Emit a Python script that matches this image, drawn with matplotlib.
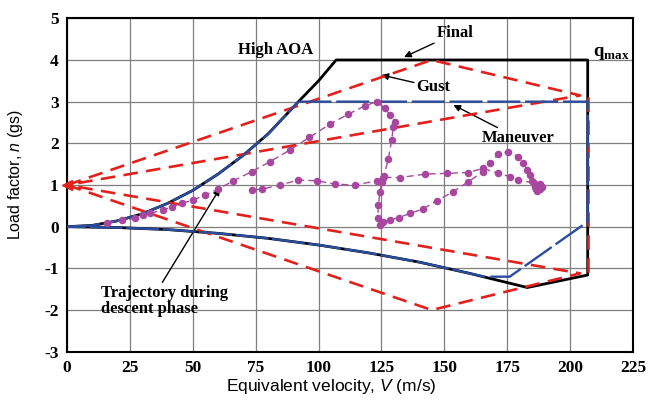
import numpy as np
import matplotlib
matplotlib.use("Agg")
import matplotlib.pyplot as plt

plt.rcParams['mathtext.fontset'] = 'custom'
plt.rcParams['mathtext.rm'] = 'Liberation Sans'
plt.rcParams['mathtext.it'] = 'Liberation Sans:italic'
plt.rcParams['mathtext.bf'] = 'Liberation Serif:bold'
plt.rcParams['axes.unicode_minus'] = False

# envolvente final (negra)
final_v = [0, 10, 20, 30, 40, 50, 60, 70, 80, 92, 100, 107, 207, 207, 183,
           160, 140, 120, 100, 80, 60, 40, 20, 0]
final_n = [0, 0.03, 0.14, 0.31, 0.56, 0.87, 1.26, 1.71, 2.23, 3.0, 3.5, 4.0, 4.0, -1.16, -1.46,
           -1.12, -0.85, -0.63, -0.44, -0.28, -0.16, -0.07, -0.02, 0]

# envolvente de maniobra (azul)
man_curve_v = [0, 10, 20, 30, 40, 50, 60, 70, 80, 92]
man_curve_n = [0, 0.03, 0.14, 0.31, 0.56, 0.87, 1.26, 1.71, 2.23, 3.0]
man_lines_v = [92, 207, 207, 176, 166]
man_lines_n = [3.0, 3.0, 0.12, -1.2, -1.2]
man_low_v = [166, 140, 120, 100, 80, 60, 40, 20, 0]
man_low_n = [-1.2, -0.85, -0.63, -0.44, -0.28, -0.16, -0.07, -0.02, 0]

# envolvente de rafaga (roja)
gust_up_v = [0, 145, 204, 0]
gust_up_n = [1, 4.0, 3.15, 1]
gust_low_v = [0, 145, 204, 0]
gust_low_n = [1, -2.0, -1.12, 1]
gust_vd_v = [207, 207]
gust_vd_n = [3.1, -1.15]

# trayectoria durante el descenso
traj_v = [16, 22, 27, 30.3, 33, 38.3, 41.6, 45.6, 50.2, 54.9, 60.1, 66.1, 73.4, 80.7, 88.6,
          96.3, 104.5, 111.8, 118.5, 123.1, 126.4, 128.4, 130.4, 129.7, 129.1, 127.7, 126,
          125.1, 124.4, 123.8, 123.5, 124.4, 125.7, 128.4, 132.1, 136.3, 141.4, 146.9, 153.6,
          159.5, 165.5, 168.2, 171.4, 175.4, 179.4, 181.4, 183, 184, 185,
          186, 187, 188, 187.5, 186.5, 188.5, 187, 189, 186, 188, 187, 185.5,
          179.4, 176.1, 171.4, 165.5, 159.5, 150.9, 142.3, 132.4, 125.7, 123.1, 114.5,
          106.7, 99.4, 92, 84.7, 77.4, 73.4]
traj_n = [0.1, 0.15, 0.2, 0.27, 0.32, 0.4, 0.48, 0.56, 0.64, 0.76, 0.9, 1.1, 1.32, 1.56, 1.84,
          2.14, 2.46, 2.7, 2.9, 3.0, 2.84, 2.68, 2.52, 2.4, 2.08, 1.62, 1.22,
          1.08, 0.84, 0.52, 0.2, 0.04, 0.12, 0.16, 0.22, 0.32, 0.42, 0.62, 0.84,
          1.08, 1.32, 1.52, 1.74, 1.8, 1.68, 1.52, 1.36, 1.24, 1.1,
          1.0, 0.95, 0.9, 1.0, 0.9, 0.98, 0.85, 0.95, 0.96, 1.02, 0.88, 1.05,
          1.12, 1.2, 1.28, 1.4, 1.3, 1.28, 1.26, 1.18, 1.18, 1.1, 1.0,
          1.02, 1.1, 1.12, 1.0, 0.9, 0.88]

fig = plt.figure(figsize=(6.59, 4.05), dpi=100)
ax = fig.add_axes([0.1017, 0.1316, 0.8588, 0.8232])

ax.plot(final_v, final_n, color='black', lw=2.0, zorder=3)
ax.plot(gust_up_v, gust_up_n, color='#e3211c', lw=1.9, dashes=(5.5, 3.2), zorder=4)
ax.plot(gust_low_v, gust_low_n, color='#e3211c', lw=1.9, dashes=(5.5, 3.2), zorder=4)
ax.plot(gust_vd_v, gust_vd_n, color='#e3211c', lw=1.9, dashes=(5.5, 3.2), zorder=4)
ax.plot(man_curve_v, man_curve_n, color='#2a4d9e', lw=1.7, dashes=(14, 1.5), zorder=5)
ax.plot(man_lines_v, man_lines_n, color='#2a4d9e', lw=1.7, dashes=(14, 2), zorder=5)
ax.plot(man_low_v, man_low_n, color='#2a4d9e', lw=1.7, dashes=(14, 1.5), zorder=5)
ax.plot([0], [1], marker='<', color='#e3211c', ms=7, zorder=6, clip_on=False)

ax.plot(traj_v, traj_n, color='#a8479f', lw=1.0, dashes=(5, 3), marker='o', ms=4.4, zorder=6)

ax.set_xlim(0, 225)
ax.set_ylim(-3, 5)
ax.set_xticks(np.arange(0, 226, 25))
ax.set_yticks(np.arange(-3, 6, 1))
ax.grid(True, color='#7f7f7f', lw=0.9)
ax.set_axisbelow(True)
ax.tick_params(length=0, pad=6)
for lab in ax.get_xticklabels() + ax.get_yticklabels():
    lab.set_fontfamily('Liberation Serif')
    lab.set_fontweight('bold')
    lab.set_fontsize(12.5)
for s in ax.spines.values():
    s.set_linewidth(1.5)

ax.set_xlabel('Equivalent velocity, $V$ (m/s)', fontfamily='Liberation Sans', fontsize=12.5)
ax.xaxis.set_label_coords(0.466, -0.075)
ax.set_ylabel('Load factor, $n$ (gs)', fontfamily='Liberation Sans', fontsize=11.5)
ax.yaxis.set_label_coords(-0.075, 0.53)

tf = dict(fontfamily='Liberation Serif', fontweight='bold', fontsize=12)
arr = dict(arrowstyle='-|>', color='black', lw=1.0, mutation_scale=10,
           shrinkA=0, shrinkB=0)
ax.text(83, 4.24, 'High AOA', ha='center', va='center', **tf)
ax.annotate('Final', xy=(134, 4.07), xytext=(147, 4.64), va='center', ha='left',
            arrowprops=arr, **tf)
ax.annotate('Gust', xy=(125, 3.64), xytext=(139, 3.35), va='center', ha='left',
            arrowprops=arr, **tf)
ax.annotate('Maneuver', xy=(153.6, 2.92), xytext=(165, 2.12), va='center', ha='left',
            arrowprops=arr, **tf)
ax.text(209, 4.17, r'$\mathbf{q}_{\mathbf{max}}$', ha='left', va='center', fontsize=13.5)
ax.annotate('Trajectory during\ndescent phase', xy=(60.8, 0.92), xytext=(13.5, -1.78),
            va='center', ha='left', linespacing=0.95,
            arrowprops=dict(arr, relpos=(0.47, 1.0)), **tf)

fig.savefig('out.png', dpi=100)
